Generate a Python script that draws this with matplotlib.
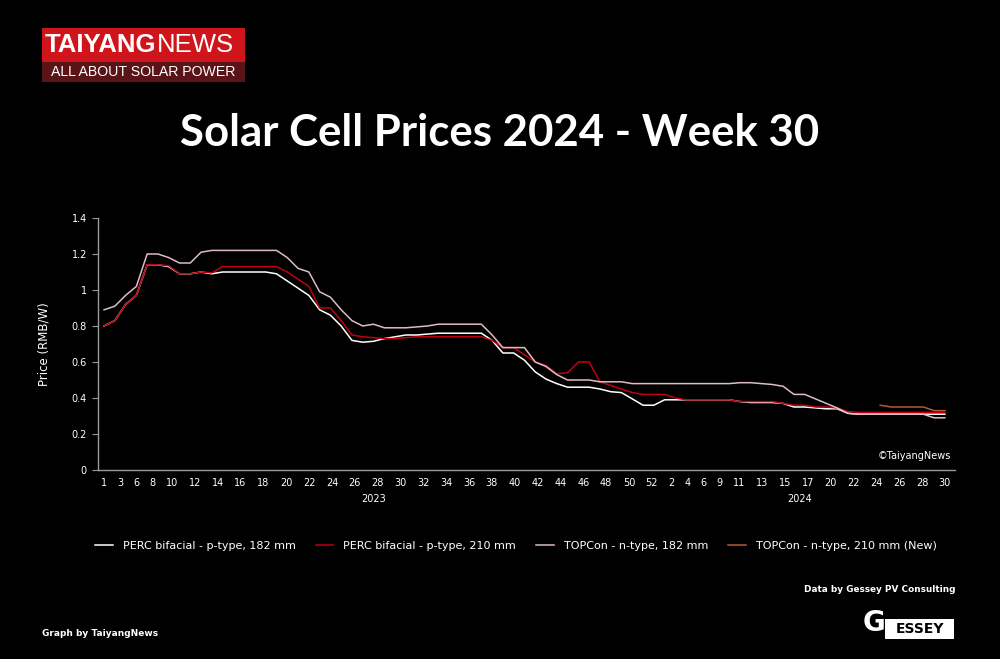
import numpy as np
import matplotlib
matplotlib.use("Agg")
import matplotlib.pyplot as plt
from matplotlib.patches import Rectangle
import matplotlib.transforms as mtransforms

# week categories (two years, some weeks not reported)
weeks_2023 = [1, 2, 3] + list(range(5, 53))
weeks_2024 = list(range(1, 7)) + list(range(8, 18)) + list(range(19, 31))
weeks = weeks_2023 + weeks_2024

perc_182 = [0.80, 0.83, 0.92, 0.97, 1.14, 1.14, 1.13, 1.09, 1.09, 1.10,
            1.09, 1.10, 1.10, 1.10, 1.10, 1.10, 1.09, 1.05, 1.01, 0.97,
            0.89, 0.86, 0.80, 0.72, 0.71, 0.715, 0.73, 0.74, 0.75, 0.75,
            0.755, 0.76, 0.76, 0.76, 0.76, 0.76, 0.72, 0.65, 0.65, 0.61,
            0.545, 0.505, 0.48, 0.46, 0.46, 0.46, 0.45, 0.435, 0.43, 0.395,
            0.36, 0.36, 0.39, 0.39, 0.39, 0.39, 0.39, 0.39, 0.39, 0.38,
            0.375, 0.375, 0.375, 0.37, 0.35, 0.35, 0.345, 0.34, 0.34, 0.315,
            0.31, 0.31, 0.31, 0.31, 0.31, 0.31, 0.31, 0.31, 0.31]
perc_210 = [0.80, 0.83, 0.92, 0.97, 1.14, 1.14, 1.135, 1.09, 1.09, 1.10,
            1.095, 1.13, 1.13, 1.13, 1.13, 1.13, 1.13, 1.10, 1.06, 1.02,
            0.90, 0.90, 0.83, 0.75, 0.74, 0.735, 0.73, 0.73, 0.735, 0.74,
            0.74, 0.74, 0.74, 0.74, 0.74, 0.74, 0.72, 0.68, 0.68, 0.64,
            0.60, 0.58, 0.535, 0.54, 0.60, 0.60, 0.49, 0.47, 0.45, 0.43,
            0.42, 0.42, 0.42, 0.40, 0.39, 0.39, 0.39, 0.39, 0.39, 0.38,
            0.38, 0.38, 0.38, 0.37, 0.36, 0.36, 0.35, 0.35, 0.345, 0.325,
            0.32, 0.32, 0.32, 0.32, 0.32, 0.32, 0.32, 0.32, 0.32]
topcon_182 = [0.89, 0.91, 0.97, 1.02, 1.20, 1.20, 1.18, 1.15, 1.15, 1.21,
              1.22, 1.22, 1.22, 1.22, 1.22, 1.22, 1.22, 1.18, 1.12, 1.10,
              0.99, 0.96, 0.89, 0.83, 0.80, 0.81, 0.79, 0.79, 0.79, 0.795,
              0.80, 0.81, 0.81, 0.81, 0.81, 0.81, 0.75, 0.68, 0.68, 0.68,
              0.60, 0.575, 0.53, 0.50, 0.50, 0.50, 0.49, 0.49, 0.49, 0.48,
              0.48, 0.48, 0.48, 0.48, 0.48, 0.48, 0.48, 0.48, 0.48, 0.485,
              0.485, 0.48, 0.475, 0.465, 0.42, 0.42, 0.395, 0.37, 0.345, 0.315,
              0.31, 0.31, 0.31, 0.31, 0.31, 0.31, 0.31, 0.29, 0.29]
topcon_210_new = [np.nan] * 72 + [0.36, 0.35, 0.35, 0.35, 0.35, 0.33, 0.33]

series = [
    ("PERC bifacial - p-type, 182 mm", perc_182, "#ffffff"),
    ("PERC bifacial - p-type, 210 mm", perc_210, "#c00010"),
    ("TOPCon - n-type, 182 mm", topcon_182, "#dcbcc6"),
    ("TOPCon - n-type, 210 mm (New)", topcon_210_new, "#b8573a"),
]

BG = "black"
FG = "white"
AXC = "#9a9a9a"

fig = plt.figure(figsize=(10, 6.59), dpi=100)
fig.set_facecolor(BG)
ax = fig.add_axes([0.098, 0.2868, 0.857, 0.3824])
ax.set_facecolor(BG)

x = np.arange(len(weeks))
for name, vals, col in series:
    ax.plot(x, vals, color=col, lw=1.1, label=name)

ax.set_ylim(0, 1.4)
ax.set_xlim(-0.56, len(weeks) - 0.06)
ax.set_yticks(np.arange(0, 1.41, 0.2))
ax.set_yticklabels(["0", "0.2", "0.4", "0.6", "0.8", "1", "1.2", "1.4"])
ax.set_ylabel("Price (RMB/W)", color=FG, fontsize=8.5, labelpad=15)

# x labels every other week, spread across the axis by text length
lab = [str(w) for w in weeks[::2]]
d = 0.62
n = [len(s) for s in lab]
g = (x[-1] - d * (sum(n) - (n[0] + n[-1]) / 2)) / (len(lab) - 1)
pos = [0.0]
for k in range(1, len(lab)):
    pos.append(pos[-1] + d * (n[k - 1] + n[k]) / 2 + g)
ax.set_xticks(pos)
ax.set_xticklabels(lab)

ax.tick_params(axis="x", length=0, pad=6, colors=FG, labelsize=7)
ax.tick_params(axis="y", length=4, width=0.8, pad=4, colors=FG, labelsize=7)
ax.tick_params(axis="y", color=AXC)
for s in ["top", "right"]:
    ax.spines[s].set_visible(False)
for s in ["left", "bottom"]:
    ax.spines[s].set_color(AXC)
    ax.spines[s].set_linewidth(1.0)

trans = mtransforms.blended_transform_factory(ax.transData, ax.transAxes)
n23 = len(weeks_2023)
ax.text((n23 - 1) / 2, -0.115, "2023", transform=trans, ha="center",
        va="center", color=FG, fontsize=7)
ax.text(n23 + (len(weeks_2024) - 1) / 2, -0.115, "2024", transform=trans,
        ha="center", va="center", color=FG, fontsize=7)
ax.text(0.995, 0.055, "\u00a9TaiyangNews", transform=ax.transAxes,
        ha="right", va="center", color=FG, fontsize=7)

leg = fig.legend(loc="center", bbox_to_anchor=(0.516, 0.171), ncol=4,
                 frameon=False, fontsize=8, handlelength=1.6,
                 columnspacing=1.8, handletextpad=0.9)
for t in leg.get_texts():
    t.set_color(FG)

fig.text(0.5, 0.798, "Solar Cell Prices 2024 - Week 30", ha="center",
         va="center", color=FG, fontsize=31.5, fontweight="bold",
         family="Lato")

# TaiyangNews logo
fig.patches.append(Rectangle((0.042, 0.906), 0.203, 0.052, transform=fig.transFigure,
                             facecolor="#d0141c", edgecolor="none"))
fig.patches.append(Rectangle((0.042, 0.876), 0.203, 0.030, transform=fig.transFigure,
                             facecolor="#5a1418", edgecolor="none"))
t1 = fig.text(0.045, 0.931, "TAIYANG", ha="left", va="center", color=FG,
              fontsize=18.5, fontweight="bold", family="Liberation Sans")
fig.canvas.draw()
bb = t1.get_window_extent().transformed(fig.transFigure.inverted())
fig.text(bb.x1, 0.931, "NEWS", ha="left", va="center", color=FG,
         fontsize=18.5, fontweight="light", family="Liberation Sans")
fig.text(0.1435, 0.890, "ALL ABOUT SOLAR POWER", ha="center", va="center",
         color=FG, fontsize=10.2, family="Liberation Sans")

fig.text(0.955, 0.105, "Data by Gessey PV Consulting", ha="right",
         va="center", color=FG, fontsize=6.4, fontweight="bold")
fig.text(0.042, 0.038, "Graph by TaiyangNews", ha="left", va="center",
         color=FG, fontsize=6.5, fontweight="bold")

# Gessey logo
fig.patches.append(Rectangle((0.885, 0.031), 0.069, 0.030, transform=fig.transFigure,
                             facecolor="white", edgecolor="none"))
fig.text(0.874, 0.055, "G", ha="center", va="center", color=FG,
         fontsize=20, fontweight="bold", family="DejaVu Sans")
fig.text(0.920, 0.046, "ESSEY", ha="center", va="center", color="black",
         fontsize=10, fontweight="bold", family="DejaVu Sans")

fig.savefig("out.png", dpi=100, facecolor=BG)
